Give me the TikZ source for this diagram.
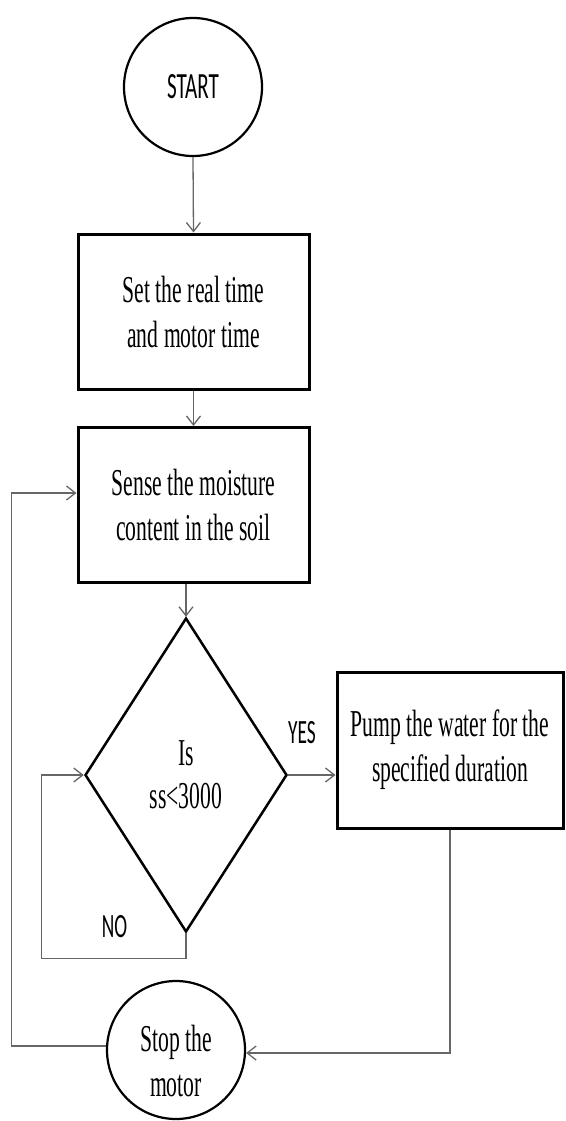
\documentclass[tikz,border=0pt]{standalone}
\usepackage{fontspec}
\setmainfont{Liberation Serif}[FakeStretch=0.57]
\newfontfamily\labelfont{Carlito}[FakeStretch=0.57]
\usetikzlibrary{shapes.geometric, arrows.meta, positioning}

\begin{document}
\begin{tikzpicture}[x=1pt, y=-1pt, >={Straight Barb[length=9pt, width=14pt]},
    block/.style={rectangle, draw, line width=3pt, minimum width=231pt, minimum height=155pt, align=center, font=\fontsize{38}{45}\selectfont},
    terminal/.style={circle, draw, line width=2.2pt, minimum size=138pt, inner sep=0pt, align=center, font=\fontsize{38}{45}\selectfont},
    decision/.style={diamond, draw, line width=2.5pt, minimum width=202pt, minimum height=314pt, inner sep=0pt, align=center, font=\fontsize{38}{43}\selectfont},
    tag/.style={font=\labelfont\fontsize{34}{40}\selectfont},
    line/.style={draw, ->, line width=1.3pt, black!60}]

    \useasboundingbox (0,0) rectangle (565,1121);

    % Main column
    \node [terminal, font=\labelfont\fontsize{37}{44}\selectfont] (start) at (193, 87) {START};
    \node [block] (settime) at (193.5, 311.5) {Set the real time\\and motor time};
    \node [block] (sense) at (193.5, 505) {Sense the moisture\\content in the soil};
    \node [decision] (check) at (186, 775) {Is\\ss<3000};
    \node [block, minimum width=226pt, minimum height=156pt] (pump) at (450, 750) {Pump the water for the\\specified duration};
    \node [terminal, text height=94pt] (stop) at (176, 1050) {Stop the\\motor};

    % Branch labels
    \node [tag] (yes) at (302, 733) {YES};
    \node [tag] (no) at (114.5, 927) {NO};

    % Paths
    \path [line] (start.south) -- (settime.north);
    \path [line] (settime.south) -- (sense.north);
    \path [line] (sense.south -| check.north) -- (check.north);
    \path [line] (check.east) -- (check.east -| pump.west);
    \path [line] (check.south) -- ++(0,25) -| ([xshift=-42.5pt]check.west) -- (check.west);
    \path [line] (pump.south) |- ([yshift=-3pt]stop.east);
    \path [line] ([yshift=4pt]stop.west) -- ++(-94.5,0) |- ([yshift=12pt]sense.west);
\end{tikzpicture}
\end{document}
